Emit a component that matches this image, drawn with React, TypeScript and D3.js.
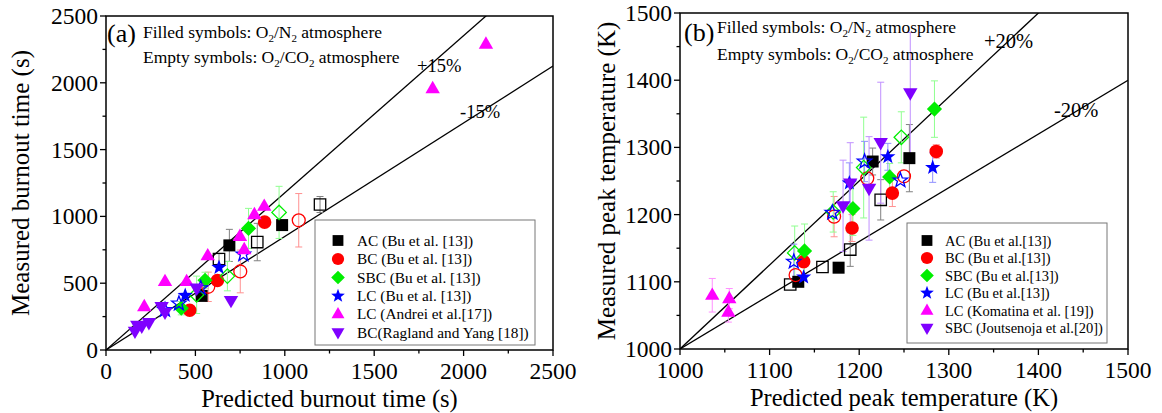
import React from 'react';
import * as d3 from 'd3';

// Each point: [predicted, measured, error half-width]
type Pt = [number, number, number];

// ---------- (a) burnout time (s) ----------
const burnAC_N2: Pt[] = [[690, 783, 120], [985, 935, 25], [535, 405, 20]];
const burnAC_CO2: Pt[] = [[632, 681, 40], [846, 808, 140], [1197, 1089, 60]];
const burnBC_N2: Pt[] = [[887, 957, 0], [623, 520, 0], [468, 298, 0]];
const burnBC_CO2: Pt[] = [[1078, 971, 200], [751, 588, 160], [572, 473, 110]];
const burnSBC_N2: Pt[] = [[797, 910, 150], [554, 522, 60], [421, 313, 50]];
const burnSBC_CO2: Pt[] = [[968, 1030, 195], [679, 553, 110], [507, 413, 140]];
const burnLC_N2: Pt[] = [[632, 618, 0], [443, 408, 0]];
const burnLC_CO2: Pt[] = [[768, 716, 0], [530, 463, 0], [408, 348, 0], [330, 300, 0]];
const burnAndrei: Pt[] = [
  [885, 1076, 0], [830, 1013, 0], [749, 851, 0], [773, 751, 0], [569, 706, 0],
  [451, 513, 0], [330, 513, 0], [214, 325, 0], [2125, 2290, 0], [1827, 1957, 0],
];
const burnRagland: Pt[] = [
  [699, 370, 0], [507, 463, 0], [311, 325, 0], [330, 282, 0], [240, 205, 0],
  [200, 178, 0], [175, 185, 0], [162, 140, 0],
];

// ---------- (b) peak temperature (K) ----------
const peakAC_N2: Pt[] = [[1132, 1100, 0], [1177, 1121, 5], [1215, 1279, 20], [1256, 1284, 50]];
const peakAC_CO2: Pt[] = [[1123, 1096, 0], [1159, 1122, 0], [1190, 1148, 25], [1224, 1222, 30]];
const peakBC_N2: Pt[] = [[1138, 1130, 0], [1192, 1180, 20], [1237, 1232, 20], [1286, 1294, 10]];
const peakBC_CO2: Pt[] = [[1129, 1110, 0], [1172, 1197, 30], [1209, 1254, 0], [1250, 1257, 0]];
const peakSBC_N2: Pt[] = [[1139, 1146, 40], [1193, 1209, 40], [1234, 1256, 20], [1284, 1357, 42]];
const peakSBC_CO2: Pt[] = [[1128, 1143, 40], [1171, 1204, 30], [1205, 1270, 75], [1247, 1315, 38]];
const peakLC_N2: Pt[] = [[1138, 1107, 0], [1189, 1247, 30], [1232, 1286, 20], [1282, 1270, 22]];
const peakLC_CO2: Pt[] = [[1127, 1130, 26], [1170, 1203, 0], [1206, 1279, 30], [1246, 1251, 0]];
const peakKomatina: Pt[] = [[1036, 1080, 25], [1055, 1075, 15], [1054, 1055, 15]];
const peakJoutsenoja: Pt[] = [[1182, 1213, 68], [1190, 1247, 60], [1211, 1239, 77], [1224, 1307, 90], [1257, 1381, 90]];

const burnTicks = [0, 500, 1000, 1500, 2000, 2500];
const burnMinor = [250, 750, 1250, 1750, 2250];
const peakTicks = [1000, 1100, 1200, 1300, 1400, 1500];
const peakMinor = [1050, 1150, 1250, 1350, 1450];

const legendA = [
  'AC (Bu et al. [13])', 'BC (Bu et al. [13])', 'SBC (Bu et al. [13])',
  'LC (Bu et al. [13])', 'LC (Andrei et al.[17])', 'BC(Ragland and Yang [18])',
];
const legendB = [
  'AC (Bu et al.[13])', 'BC (Bu et al.[13])', 'SBC (Bu et al.[13])',
  'LC (Bu et al.[13])', 'LC (Komatina et al. [19])', 'SBC (Joutsenoja et al.[20])',
];

type Shape = 'square' | 'circle' | 'diamond' | 'star' | 'up' | 'down';
const SHAPES: Shape[] = ['square', 'circle', 'diamond', 'star', 'up', 'down'];
const COLORS = ['#000000', '#ff0000', '#00ee00', '#0000ff', '#ff00ff', '#7f00ff'];
const BAR_COLORS = ['#808080', '#ff9090', '#90ff90', '#9090ff', '#ff90ff', '#c090ff'];

const FONT = '"Liberation Serif", "Times New Roman", serif';

function shapePath(s: Shape, k = 1): string {
  const p = d3.path();
  if (s === 'square') {
    const h = 6 * k;
    p.rect(-h, -h, 2 * h, 2 * h);
  } else if (s === 'circle') {
    const r = 6.8 * k;
    p.moveTo(r, 0);
    p.arc(0, 0, r, 0, Math.PI * 2);
  } else if (s === 'diamond') {
    const h = 7.6 * k;
    p.moveTo(0, -h); p.lineTo(h, 0); p.lineTo(0, h); p.lineTo(-h, 0);
  } else if (s === 'star') {
    const R = 8 * k, r = 3.3 * k;
    for (let i = 0; i < 10; i++) {
      const a = -Math.PI / 2 + (i * Math.PI) / 5;
      const rr = i % 2 === 0 ? R : r;
      const x = rr * Math.cos(a), y = rr * Math.sin(a);
      if (i === 0) p.moveTo(x, y); else p.lineTo(x, y);
    }
  } else if (s === 'up') {
    const w = 7.2 * k;
    p.moveTo(0, -7.8 * k); p.lineTo(w, 4.6 * k); p.lineTo(-w, 4.6 * k);
  } else {
    const w = 7.2 * k;
    p.moveTo(0, 7.8 * k); p.lineTo(w, -4.6 * k); p.lineTo(-w, -4.6 * k);
  }
  p.closePath();
  return p.toString();
}

interface Series { pts: Pt[]; idx: number; open: boolean }

interface PanelProps {
  x0: number; x1: number; y0: number; y1: number;
  domain: [number, number];
  major: number[]; minor: number[];
  series: Series[];
  slopes: number[];
  slopeLabels: { text: string; x: number; y: number; size: number }[];
  tag: string; tagX: number; tagY: number;
  noteX: number; noteY1: number; noteY2: number;
  xTitle: string; yTitle: string; yTitleX: number;
  legend: string[]; legBox: [number, number, number, number];
  legSymX: number; legTextX: number; legRowY: number[]; legFont: number;
  clipId: string;
}

function Sub({ children }: { children: string }) {
  return <tspan fontSize="11" dy="4">{children}</tspan>;
}

function Panel(pr: PanelProps) {
  const x = d3.scaleLinear().domain(pr.domain).range([pr.x0, pr.x1]);
  const y = d3.scaleLinear().domain(pr.domain).range([pr.y0, pr.y1]);
  const [d0, d1] = pr.domain;
  const cx = (pr.x0 + pr.x1) / 2;
  const cy = (pr.y0 + pr.y1) / 2;
  return (
    <g fontFamily={FONT}>
      <defs>
        <clipPath id={pr.clipId}>
          <rect x={pr.x0} y={pr.y1} width={pr.x1 - pr.x0} height={pr.y0 - pr.y1} />
        </clipPath>
      </defs>

      {/* ±% reference lines */}
      <g clipPath={`url(#${pr.clipId})`}>
        {pr.slopes.map((k, i) => (
          <line key={i} x1={x(d0)} y1={y(d0)} x2={x(d1)} y2={y(d0 + k * (d1 - d0))}
            stroke="#000" strokeWidth={1.3} />
        ))}
      </g>

      {/* error bars */}
      {pr.series.map((s, si) => (
        <g key={si} stroke={BAR_COLORS[s.idx]} strokeWidth={1}>
          {s.pts.filter(p => p[2] > 0).map((p, i) => {
            const px = x(p[0]);
            const ya = y(p[1] + p[2]), yb = y(p[1] - p[2]);
            return (
              <g key={i}>
                <line x1={px} x2={px} y1={ya} y2={yb} />
                <line x1={px - 3.5} x2={px + 3.5} y1={ya} y2={ya} />
                <line x1={px - 3.5} x2={px + 3.5} y1={yb} y2={yb} />
              </g>
            );
          })}
        </g>
      ))}

      {/* markers */}
      {pr.series.map((s, si) => (
        <g key={si}>
          {s.pts.map((p, i) => (
            <path key={i} transform={`translate(${x(p[0])},${y(p[1])})`}
              d={shapePath(SHAPES[s.idx], s.open ? 0.95 : 1)}
              fill={s.open ? 'none' : COLORS[s.idx]}
              stroke={COLORS[s.idx]} strokeWidth={s.open ? 1.3 : 0} />
          ))}
        </g>
      ))}

      {pr.slopeLabels.map((l, i) => (
        <text key={i} x={l.x} y={l.y} fontSize={l.size} fill="#000">{l.text}</text>
      ))}

      <text x={pr.tagX} y={pr.tagY} fontSize="26" fill="#000">{pr.tag}</text>
      <text x={pr.noteX} y={pr.noteY1} fontSize="17.5" fill="#000">
        Filled symbols: O<Sub>2</Sub><tspan dy="-4">/N</tspan><Sub>2</Sub><tspan dy="-4"> atmosphere</tspan>
      </text>
      <text x={pr.noteX} y={pr.noteY2} fontSize="17.5" fill="#000">
        Empty symbols: O<Sub>2</Sub><tspan dy="-4">/CO</tspan><Sub>2</Sub><tspan dy="-4"> atmosphere</tspan>
      </text>

      {/* legend */}
      <rect x={pr.legBox[0]} y={pr.legBox[1]} width={pr.legBox[2]} height={pr.legBox[3]}
        fill="#fff" stroke="#777" strokeWidth={1} />
      {pr.legend.map((t, i) => (
        <g key={i}>
          <path transform={`translate(${pr.legSymX},${pr.legRowY[i]})`}
            d={shapePath(SHAPES[i], 0.9)} fill={COLORS[i]} />
          <text x={pr.legTextX} y={pr.legRowY[i] + 5} fontSize={pr.legFont} fill="#000">{t}</text>
        </g>
      ))}

      {/* frame */}
      <rect x={pr.x0} y={pr.y1} width={pr.x1 - pr.x0} height={pr.y0 - pr.y1}
        fill="none" stroke="#000" strokeWidth={1.5} />

      {/* ticks */}
      <g stroke="#000" strokeWidth={1.3}>
        {pr.major.map(v => <line key={'xm' + v} x1={x(v)} x2={x(v)} y1={pr.y0} y2={pr.y0 + 6} />)}
        {pr.minor.map(v => <line key={'xn' + v} x1={x(v)} x2={x(v)} y1={pr.y0} y2={pr.y0 + 3.5} />)}
        {pr.major.map(v => <line key={'ym' + v} x1={pr.x0 - 6} x2={pr.x0} y1={y(v)} y2={y(v)} />)}
        {pr.minor.map(v => <line key={'yn' + v} x1={pr.x0 - 3.5} x2={pr.x0} y1={y(v)} y2={y(v)} />)}
      </g>
      <g fontSize="23.5" fill="#000">
        {pr.major.map(v => (
          <text key={'xl' + v} x={x(v)} y={pr.y0 + 29} textAnchor="middle">{v}</text>
        ))}
        {pr.major.map(v => (
          <text key={'yl' + v} x={pr.x0 - 8} y={y(v) + 8} textAnchor="end">{v}</text>
        ))}
      </g>
      <text x={cx} y={pr.y0 + 57} fontSize="24.5" textAnchor="middle" fill="#000">{pr.xTitle}</text>
      <text transform={`translate(${pr.yTitleX},${cy}) rotate(-90)`} fontSize="25"
        textAnchor="middle" fill="#000">{pr.yTitle}</text>
    </g>
  );
}

export default function App() {
  const seriesA: Series[] = [
    { pts: burnAC_N2, idx: 0, open: false }, { pts: burnAC_CO2, idx: 0, open: true },
    { pts: burnBC_N2, idx: 1, open: false }, { pts: burnBC_CO2, idx: 1, open: true },
    { pts: burnSBC_N2, idx: 2, open: false }, { pts: burnSBC_CO2, idx: 2, open: true },
    { pts: burnLC_N2, idx: 3, open: false }, { pts: burnLC_CO2, idx: 3, open: true },
    { pts: burnAndrei, idx: 4, open: false }, { pts: burnRagland, idx: 5, open: false },
  ];
  const seriesB: Series[] = [
    { pts: peakAC_N2, idx: 0, open: false }, { pts: peakAC_CO2, idx: 0, open: true },
    { pts: peakBC_N2, idx: 1, open: false }, { pts: peakBC_CO2, idx: 1, open: true },
    { pts: peakSBC_N2, idx: 2, open: false }, { pts: peakSBC_CO2, idx: 2, open: true },
    { pts: peakLC_N2, idx: 3, open: false }, { pts: peakLC_CO2, idx: 3, open: true },
    { pts: peakKomatina, idx: 4, open: false }, { pts: peakJoutsenoja, idx: 5, open: false },
  ];
  return (
    <svg width={1162} height={413} style={{ position: 'absolute', left: 0, top: 0, background: '#fff' }}>
      <Panel
        x0={106} x1={553} y0={350} y1={16}
        domain={[0, 2500]} major={burnTicks} minor={burnMinor}
        series={seriesA}
        slopes={[1 / 0.85, 0.85]}
        slopeLabels={[{ text: '+15%', x: 417, y: 72, size: 18.5 }, { text: '-15%', x: 460, y: 118, size: 18.5 }]}
        tag="(a)" tagX={107} tagY={42}
        noteX={143} noteY1={38} noteY2={63}
        xTitle="Predicted burnout time (s)" yTitle="Measured burnout time (s)" yTitleX={29}
        legend={legendA} legBox={[315, 220, 220, 125]}
        legSymX={338} legTextX={357} legRowY={[240.5, 259, 277.5, 296, 314, 332.5]} legFont={15.3}
        clipId="clipA"
      />
      <Panel
        x0={680} x1={1128} y0={349} y1={13}
        domain={[1000, 1500]} major={peakTicks} minor={peakMinor}
        series={seriesB}
        slopes={[1 / 0.8, 0.8]}
        slopeLabels={[{ text: '+20%', x: 984, y: 48, size: 20.5 }, { text: '-20%', x: 1054, y: 117, size: 20.5 }]}
        tag="(b)" tagX={684} tagY={41}
        noteX={717} noteY1={33} noteY2={60}
        xTitle="Predicted peak temperature (K)" yTitle="Measured peak temperature (K)" yTitleX={615}
        legend={legendB} legBox={[907, 223, 200, 120]}
        legSymX={927} legTextX={945} legRowY={[240.5, 258, 275.5, 293, 310.5, 328]} legFont={14.5}
        clipId="clipB"
      />
    </svg>
  );
}
